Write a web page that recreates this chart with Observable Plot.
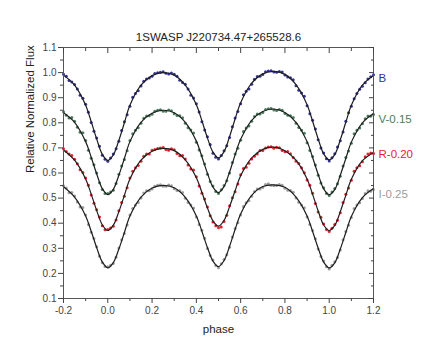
<!DOCTYPE html>
<html><head><meta charset="utf-8">
<script src="https://cdn.jsdelivr.net/npm/d3@7"></script>
<script src="https://cdn.jsdelivr.net/npm/@observablehq/plot@0.6"></script>
<style>html,body{margin:0;padding:0;background:#fff}#chart{width:436px;height:361px}</style>
</head><body><div id="chart"></div>
<script>
const titleText = "1SWASP J220734.47+265528.6";
const xLabel = "phase";
const yLabel = "Relative Normalized Flux";
const bandNames = ["B", "V-0.15", "R-0.20", "I-0.25"];
const bandColors = ["#33339a", "#4b7d5e", "#e3232b", "#9c9c9c"];
const labelY = [0.978, 0.813, 0.673, 0.517];

const xMajor = [-0.2, 0, 0.2, 0.4, 0.6, 0.8, 1.0, 1.2];
const xMinor = [-0.1, 0.1, 0.3, 0.5, 0.7, 0.9, 1.1];
const yMajor = [0.1, 0.2, 0.3, 0.4, 0.5, 0.6, 0.7, 0.8, 0.9, 1.0, 1.1];
const yMinor = [0.15, 0.25, 0.35, 0.45, 0.55, 0.65, 0.75, 0.85, 0.95, 1.05];

// fitted light curves
const fitPhase = [-0.2,-0.15,-0.1,-0.075,-0.05,-0.025,0,0.025,0.05,0.075,0.1,0.15,0.2,0.25,0.3,0.35,0.4,0.425,0.45,0.475,0.5,0.525,0.55,0.575,0.6,0.65,0.7,0.75,0.8,0.85,0.9,0.925,0.95,0.975,1.0,1.025,1.05,1.075,1.1,1.15,1.2];
const fitB = [0.990,0.950,0.870,0.805,0.735,0.675,0.650,0.672,0.730,0.800,0.870,0.950,0.988,1.000,0.990,0.950,0.872,0.808,0.740,0.683,0.660,0.685,0.745,0.815,0.880,0.958,0.995,1.005,0.993,0.952,0.872,0.806,0.736,0.676,0.652,0.673,0.732,0.802,0.870,0.950,0.988];
const fitV = [0.840,0.802,0.725,0.663,0.596,0.538,0.514,0.535,0.591,0.658,0.725,0.802,0.838,0.850,0.840,0.802,0.727,0.665,0.599,0.544,0.522,0.546,0.604,0.672,0.734,0.810,0.845,0.855,0.841,0.802,0.725,0.662,0.595,0.537,0.514,0.534,0.591,0.658,0.723,0.800,0.837];
const fitR = [0.692,0.651,0.576,0.516,0.450,0.394,0.371,0.392,0.446,0.511,0.576,0.651,0.687,0.698,0.689,0.652,0.581,0.523,0.461,0.409,0.388,0.411,0.466,0.529,0.589,0.660,0.694,0.703,0.689,0.651,0.576,0.515,0.449,0.393,0.371,0.391,0.446,0.511,0.575,0.649,0.682];
const fitI = [0.545,0.504,0.429,0.368,0.302,0.246,0.222,0.243,0.297,0.363,0.429,0.504,0.540,0.551,0.541,0.503,0.429,0.368,0.303,0.249,0.227,0.251,0.308,0.375,0.437,0.511,0.546,0.553,0.543,0.504,0.429,0.367,0.301,0.245,0.222,0.242,0.297,0.363,0.427,0.502,0.538];

// observations, set 1
const obsPhase1 = [-0.1875,-0.1625,-0.1375,-0.1125,-0.0875,-0.0625,-0.0375,-0.0125,0.0125,0.0375,0.0625,0.0875,0.1125,0.1375,0.1625,0.1875,0.2125,0.2375,0.2625,0.2875,0.3125,0.3375,0.3625,0.3875,0.4125,0.4375,0.4625,0.4875,0.5125,0.5375,0.5625,0.5875,0.6125,0.6375,0.6625,0.6875,0.7125,0.7375,0.7625,0.7875,0.8125,0.8375,0.8625,0.8875,0.9125,0.9375,0.9625,0.9875,1.0125,1.0375,1.0625,1.0875,1.1125,1.1375,1.1625,1.1875];
const obsB1 = [0.985,0.963,0.935,0.898,0.842,0.766,0.707,0.655,0.660,0.697,0.769,0.832,0.902,0.928,0.966,0.978,0.996,1.001,0.997,0.998,0.985,0.961,0.935,0.899,0.843,0.771,0.714,0.663,0.670,0.709,0.784,0.845,0.912,0.935,0.974,0.985,1.003,1.007,1.001,1.002,0.982,0.972,0.930,0.906,0.836,0.775,0.700,0.657,0.661,0.704,0.763,0.840,0.896,0.934,0.960,0.983];
const obsV1 = [0.830,0.821,0.782,0.760,0.691,0.633,0.561,0.518,0.524,0.558,0.628,0.689,0.756,0.780,0.818,0.828,0.846,0.852,0.846,0.848,0.829,0.820,0.780,0.759,0.692,0.636,0.566,0.526,0.533,0.569,0.642,0.699,0.765,0.787,0.825,0.835,0.853,0.857,0.849,0.850,0.830,0.821,0.781,0.758,0.690,0.632,0.560,0.518,0.524,0.557,0.628,0.688,0.756,0.779,0.816,0.826];
const obsR1 = [0.686,0.670,0.637,0.602,0.551,0.479,0.425,0.374,0.381,0.413,0.482,0.541,0.607,0.630,0.667,0.676,0.694,0.700,0.694,0.697,0.678,0.670,0.632,0.612,0.548,0.496,0.430,0.390,0.385,0.432,0.501,0.556,0.618,0.639,0.667,0.690,0.700,0.705,0.703,0.690,0.686,0.662,0.638,0.601,0.551,0.478,0.424,0.375,0.380,0.412,0.482,0.540,0.607,0.629,0.665,0.680];
const obsI1 = [0.540,0.522,0.484,0.463,0.395,0.339,0.268,0.227,0.232,0.264,0.334,0.393,0.459,0.482,0.520,0.529,0.547,0.553,0.547,0.549,0.530,0.522,0.482,0.461,0.395,0.340,0.271,0.231,0.238,0.274,0.345,0.402,0.467,0.489,0.526,0.536,0.554,0.551,0.550,0.551,0.531,0.523,0.483,0.462,0.395,0.338,0.267,0.226,0.232,0.263,0.334,0.392,0.459,0.481,0.518,0.527];

// observations, set 2
const obsPhase2 = [-0.2,-0.175,-0.15,-0.125,-0.1,-0.075,-0.05,-0.025,0,0.025,0.05,0.075,0.1,0.125,0.15,0.175,0.2,0.225,0.25,0.275,0.3,0.325,0.35,0.375,0.4,0.425,0.45,0.475,0.5,0.525,0.55,0.575,0.6,0.625,0.65,0.675,0.7,0.725,0.75,0.775,0.8,0.825,0.85,0.875,0.9,0.925,0.95,0.975,1.0,1.025,1.05,1.075,1.1,1.125,1.15,1.175,1.2];
const obsB2 = [0.993,0.969,0.953,0.910,0.874,0.801,0.739,0.671,0.647,0.676,0.726,0.804,0.866,0.917,0.947,0.975,0.985,0.999,1.003,0.994,0.993,0.970,0.954,0.910,0.876,0.804,0.744,0.679,0.656,0.689,0.741,0.819,0.876,0.926,0.954,0.984,0.992,1.006,1.002,1.004,0.990,0.979,0.948,0.919,0.868,0.810,0.732,0.680,0.648,0.677,0.728,0.806,0.866,0.917,0.946,0.975,0.991];
const obsV2 = [0.844,0.819,0.806,0.762,0.729,0.659,0.600,0.534,0.518,0.531,0.595,0.654,0.729,0.770,0.798,0.827,0.834,0.850,0.846,0.851,0.836,0.828,0.798,0.771,0.723,0.669,0.595,0.548,0.518,0.550,0.600,0.676,0.730,0.779,0.806,0.835,0.841,0.856,0.851,0.853,0.837,0.828,0.798,0.770,0.721,0.666,0.591,0.541,0.510,0.538,0.587,0.662,0.719,0.770,0.796,0.827,0.833];
const obsR2 = [0.697,0.676,0.655,0.613,0.580,0.512,0.454,0.390,0.375,0.388,0.450,0.507,0.580,0.621,0.647,0.676,0.691,0.698,0.702,0.691,0.693,0.669,0.656,0.616,0.585,0.519,0.465,0.405,0.382,0.407,0.470,0.525,0.593,0.623,0.656,0.676,0.690,0.704,0.699,0.701,0.685,0.677,0.647,0.621,0.572,0.519,0.445,0.397,0.367,0.395,0.442,0.515,0.571,0.621,0.645,0.676,0.678];
const obsI2 = [0.549,0.521,0.508,0.465,0.433,0.364,0.306,0.242,0.226,0.239,0.301,0.359,0.433,0.473,0.500,0.529,0.536,0.551,0.547,0.552,0.537,0.529,0.499,0.473,0.425,0.372,0.299,0.253,0.223,0.255,0.304,0.379,0.433,0.481,0.507,0.536,0.542,0.557,0.549,0.554,0.539,0.530,0.500,0.473,0.425,0.371,0.297,0.249,0.218,0.246,0.293,0.367,0.423,0.473,0.498,0.529,0.534];

const fitSeries = [fitB, fitV, fitR, fitI];
const fitData = fitSeries.flatMap((s, k) => s.map((v, i) => ({phase: fitPhase[i], flux: v, band: bandNames[k]})));
const obsSets = [[obsPhase1, [obsB1, obsV1, obsR1, obsI1]], [obsPhase2, [obsB2, obsV2, obsR2, obsI2]]];
const obsData = obsSets.flatMap(([ph, series]) => series.flatMap((s, k) => s.map((v, i) => ({phase: ph[i], flux: v, band: bandNames[k]}))));
const labels = bandNames.map((b, k) => ({band: b, y: labelY[k], x: 1.2}));

const font = "'Liberation Sans', Arial, Helvetica, sans-serif";
const plot = Plot.plot({
  width: 436, height: 361,
  marginLeft: 63, marginRight: 63, marginTop: 47, marginBottom: 63,
  style: {fontFamily: font, fontSize: "10px", background: "#fff", color: "#444", overflow: "visible"},
  x: {domain: [-0.2, 1.2]},
  y: {domain: [0.1, 1.1]},
  color: {domain: bandNames, range: bandColors},
  marks: [
    Plot.dot(obsData, {x: "phase", y: "flux", fill: "band", r: 1.5, stroke: null}),
    Plot.line(fitData, {x: "phase", y: "flux", z: "band", stroke: "#1e1e1e", strokeWidth: 1.2, curve: "catmull-rom"}),
    Plot.frame({stroke: "#555", strokeWidth: 1}),
    Plot.axisY(yMajor, {anchor: "left", tickSize: 5, tickPadding: 2, tickFormat: d => d.toFixed(1), label: null, stroke: "#444"}),
    Plot.axisY(yMinor, {anchor: "left", tickSize: 3, tickFormat: () => "", label: null, stroke: "#444"}),
    Plot.axisX(xMajor, {anchor: "bottom", tickSize: 5, tickPadding: 3, tickFormat: d => d.toFixed(1), label: null, stroke: "#444"}),
    Plot.axisX(xMinor, {anchor: "bottom", tickSize: 3, tickFormat: () => "", label: null, stroke: "#444"}),
    Plot.axisX(xMajor, {anchor: "top", tickSize: -5, tickFormat: () => "", label: null, stroke: "#444"}),
    Plot.axisX(xMinor, {anchor: "top", tickSize: -3, tickFormat: () => "", label: null, stroke: "#444"}),
    Plot.axisY(yMajor, {anchor: "right", tickSize: -5, tickFormat: () => "", label: null, stroke: "#444"}),
    Plot.axisY(yMinor, {anchor: "right", tickSize: -3, tickFormat: () => "", label: null, stroke: "#444"}),
    Plot.text(labels, {x: "x", y: "y", text: "band", fill: "band", textAnchor: "start", dx: 5, fontSize: 11.5}),
    Plot.text([titleText], {frameAnchor: "top", dy: -10, fontSize: 11.5, fill: "#222", lineAnchor: "middle"}),
    Plot.text([xLabel], {frameAnchor: "bottom", dy: 31, fontSize: 11.5, fill: "#222", lineAnchor: "middle"}),
    Plot.text([yLabel], {frameAnchor: "left", dx: -33, rotate: -90, fontSize: 11.5, fill: "#222", lineAnchor: "middle"})
  ]
});
document.getElementById("chart").appendChild(plot);
</script>
</body></html>
